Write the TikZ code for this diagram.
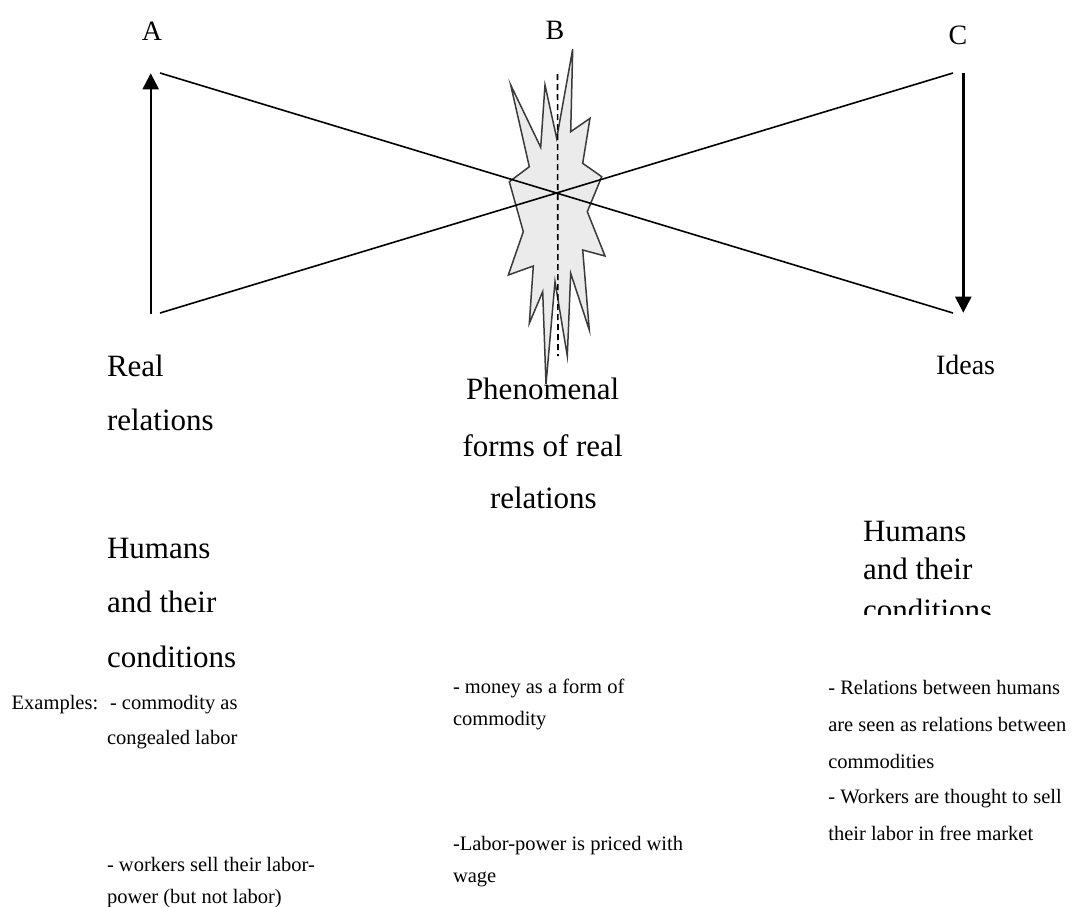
\documentclass[tikz,border=0pt]{standalone}
\usepackage{fontspec}
\setmainfont{Liberation Serif}
\usetikzlibrary{arrows.meta}
\tikzset{
  lbl/.style={anchor=base west, inner sep=0pt, outer sep=0pt},
  big/.style={lbl, font=\fontsize{31}{31}\selectfont},
  mid/.style={lbl, font=\fontsize{28}{28}\selectfont},
  small/.style={lbl, font=\fontsize{20.5}{20.5}\selectfont},
  letter/.style={anchor=base, inner sep=0pt, font=\fontsize{28}{28}\selectfont},
  thin/.style={line width=1.6pt, black},
  arr/.style={line width=2.4pt, -{Triangle[length=16pt,width=16pt]}},
  burst/.style={line width=1.5pt, draw={rgb,255:red,58;green,58;blue,58}, fill={rgb,255:red,235;green,235;blue,235}, line join=miter},
  axis/.style={line width=1.6pt, dash pattern=on 6pt off 4pt, black}
}
\begin{document}
\begin{tikzpicture}[x=1pt,y=-1pt]
\useasboundingbox (0,0) rectangle (1078,906);
% end points
\coordinate (ltop) at (160,73);
\coordinate (lbot) at (160,313);
\coordinate (rtop) at (953,73);
\coordinate (rbot) at (953,313);
\coordinate (atail) at (150.7,313.5);
\coordinate (ahead) at (150.7,73.3);
\coordinate (ctail) at (963.3,73);
\coordinate (chead) at (963.3,312.7);
\coordinate (dtop) at (557.5,74);
\coordinate (dbot) at (558,356);
% starburst
\draw[burst] (572.7,49) -- (570.7,131.7) -- (590,118.3) -- (582.7,163.3) -- (601.7,176.7)
  -- (587.3,211.7) -- (605,256) -- (582.7,250) -- (589.3,330) -- (570.7,273.3)
  -- (567.3,356) -- (555,281.7) -- (546,384) -- (542.7,291.7) -- (529.3,323.3)
  -- (533.3,266) -- (508.3,275) -- (523.3,231.7) -- (509.3,181.7) -- (529.3,166.7)
  -- (510.7,85) -- (540.7,147.3) -- (545,85) -- (556.7,138.3) -- cycle;
\draw[axis] (dtop) -- (dbot);
% bow tie
\draw[thin] (ltop) -- (rbot);
\draw[thin] (lbot) -- (rtop);
% arrows
\draw[arr] (atail) -- (ahead);
\draw[arr] (ctail) -- (chead);
% letters
\node[letter] (A) at (152,40) {A};
\node[letter] (B) at (555,39) {B};
\node[letter] (C) at (958,44) {C};
% left column
\node[big] (real1) at (107,376) {Real};
\node[big] (real2) at (107,430.5) {relations};
\node[big] (hum1) at (107,558) {Humans};
\node[big] (hum2) at (107,612.5) {and their};
\node[big] (hum3) at (107,667) {conditions};
% middle column
\node[big] (ph1) at (466,399.5) {Phenomenal};
\node[big] (ph2) at (462.5,456) {forms of real};
\node[big] (ph3) at (490,508.5) {relations};
% right column
\node[mid] (ideas) at (936,374) {Ideas};
\node[big] (rh1) at (863,541) {Humans};
\node[big] (rh2) at (863,579) {and their};
\begin{scope}
\clip (800,590) rectangle (1078,614);
\node[big] (rh3) at (863,620) {conditions};
\end{scope}
% bottom texts
\node[small] (ex) at (11.7,709) {Examples:};
\node[small] (l1) at (110,709) {- commodity as};
\node[small] (l2) at (107,744) {congealed labor};
\node[small] (l3) at (107,871) {- workers sell their labor-};
\node[small] (l4) at (107,903) {power (but not labor)};
\node[small] (m1) at (453,693) {- money as a form of};
\node[small] (m2) at (453,725) {commodity};
\node[small] (m3) at (453,850) {-Labor-power is priced with};
\node[small] (m4) at (453,882) {wage};
\node[small] (r1) at (828.3,694) {- Relations between humans};
\node[small] (r2) at (828.3,731.5) {are seen as relations between};
\node[small] (r3) at (828.3,768) {commodities};
\node[small] (r4) at (828.3,803.5) {- Workers are thought to sell};
\node[small] (r5) at (828.3,840) {their labor in free market};
\end{tikzpicture}
\end{document}
